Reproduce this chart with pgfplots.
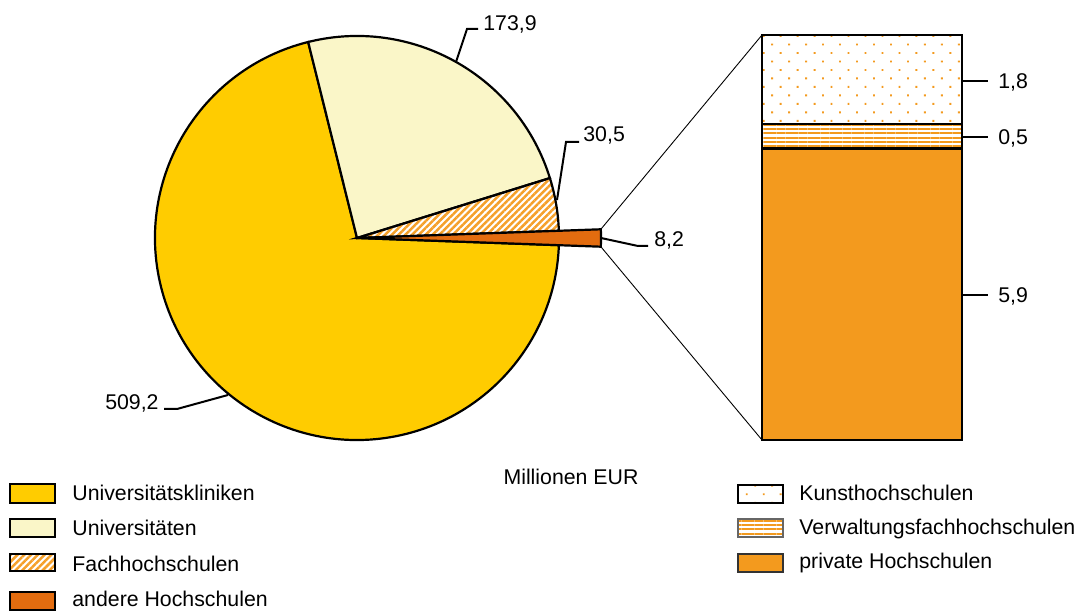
\documentclass[border=0pt]{standalone}
\usepackage{pgfplots}
\pgfplotsset{compat=1.18}
\usepackage{pgfplotstable}
\usetikzlibrary{patterns.meta}
\usepackage{fontspec}
\setmainfont{Liberation Sans}
\definecolor{klin}{HTML}{FFCC00}
\definecolor{uni}{HTML}{FAF6C8}
\definecolor{fhor}{HTML}{F5A02A}
\definecolor{andere}{HTML}{E36C0F}
\definecolor{priv}{HTML}{F39A1E}
\definecolor{dotor}{HTML}{F39A1E}
\pgfplotstableread{
name value
Kliniken 509.2
Universitaeten 173.9
Fachhochschulen 30.5
andere 8.2
}\piedata
\pgfplotstableread{
x private verwaltung kunst
0 5.9 0.5 1.8
}\bardata
\begin{document}
\begin{tikzpicture}[font=\fontsize{10.65}{12}\selectfont]
\pgfplotstablegetelem{0}{value}\of\piedata \let\vK\pgfplotsretval
\pgfplotstablegetelem{1}{value}\of\piedata \let\vU\pgfplotsretval
\pgfplotstablegetelem{2}{value}\of\piedata \let\vF\pgfplotsretval
\pgfplotstablegetelem{3}{value}\of\piedata \let\vA\pgfplotsretval
\pgfmathsetmacro\tot{\vK+\vU+\vF+\vA}
\pgfmathsetmacro\sA{-180*(\vA/\tot)}
\pgfmathsetmacro\eA{180*(\vA/\tot)}
\pgfmathsetmacro\eF{\eA+360*(\vF/\tot)}
\pgfmathsetmacro\eU{\eF+360*(\vU/\tot)}
\pgfmathsetmacro\eK{\eU+360*(\vK/\tot)}
\begin{axis}[x=0.5pt, y=0.5pt, y dir=reverse, xmin=0, xmax=1083, ymin=0, ymax=613,
  hide axis, clip=false, at={(0,0)}, anchor=south west]
% pie
\filldraw[fill=klin, draw=black, line width=1.1pt] (axis cs:357,238) -- ++(\eU:101pt) arc[start angle=\eU, end angle=\eK, radius=101pt] -- cycle;
\filldraw[fill=uni, draw=black, line width=1.1pt] (axis cs:357,238) -- ++(\eF:101pt) arc[start angle=\eF, end angle=\eU, radius=101pt] -- cycle;
\filldraw[pattern={Lines[angle=45, distance=2.4pt, line width=1.25pt]}, pattern color=fhor, draw=black, line width=1.1pt] (axis cs:357,238) -- ++(\eA:101pt) arc[start angle=\eA, end angle=\eF, radius=101pt] -- cycle;
\filldraw[fill=andere, draw=black, line width=1.1pt, line join=miter] (axis cs:357,238) -- ++(\sA:122pt) arc[start angle=\sA, end angle=\eA, radius=122pt] -- cycle;
% connectors
\draw[line width=0.45pt] (axis cs:357,238) ++(\eA:122pt) -- (axis cs:762,35);
\draw[line width=0.45pt] (axis cs:357,238) ++(\sA:122pt) -- (axis cs:762,440);
% leader lines and labels
\draw[line width=1pt] (axis cs:456,62) -- (axis cs:467,29) -- (axis cs:478,29);
\node[anchor=base west, inner sep=0] at (axis cs:483,30.5) {173,9};
\draw[line width=1pt] (axis cs:557,200) -- (axis cs:566,142) -- (axis cs:579,142);
\node[anchor=base west, inner sep=0] at (axis cs:583,142) {30,5};
\draw[line width=1pt] (axis cs:601,238) -- (axis cs:638,246) -- (axis cs:648,246);
\node[anchor=base west, inner sep=0] at (axis cs:654,247) {8,2};
\draw[line width=1pt] (axis cs:228,395) -- (axis cs:177,409) -- (axis cs:164,409);
\node[anchor=base east, inner sep=0] at (axis cs:159,410) {509,2};
\draw[line width=1pt] (axis cs:962,81) -- (axis cs:988,81);
\node[anchor=base west, inner sep=0] at (axis cs:998,89) {1,8};
\draw[line width=1pt] (axis cs:962,137) -- (axis cs:988,137);
\node[anchor=base west, inner sep=0] at (axis cs:998,145) {0,5};
\draw[line width=1pt] (axis cs:962,295) -- (axis cs:988,295);
\node[anchor=base west, inner sep=0] at (axis cs:998,303) {5,9};
\node[anchor=base, inner sep=0] at (axis cs:571,485) {Millionen EUR};
% legend left
\filldraw[fill=klin, draw=black, line width=1pt] (axis cs:10,484) rectangle (axis cs:55,503);
\node[anchor=base west, inner sep=0] at (axis cs:72,501) {Universitätskliniken};
\filldraw[fill=uni, draw=black, line width=1pt] (axis cs:10,519) rectangle (axis cs:55,537);
\node[anchor=base west, inner sep=0] at (axis cs:72,536) {Universitäten};
\filldraw[pattern={Lines[angle=45, distance=2.4pt, line width=1.25pt]}, pattern color=fhor, draw=black, line width=1pt] (axis cs:10,554) rectangle (axis cs:55,571);
\node[anchor=base west, inner sep=0] at (axis cs:72,572) {Fachhochschulen};
\filldraw[fill=andere, draw=black, line width=1pt] (axis cs:10,592) rectangle (axis cs:55,610);
\node[anchor=base west, inner sep=0] at (axis cs:72,607) {andere Hochschulen};
% legend right
\filldraw[pattern={Dots[angle=45, distance=6pt, radius=0.65pt]}, pattern color=dotor, draw=black, line width=1pt] (axis cs:738,485) rectangle (axis cs:783,503);
\node[anchor=base west, inner sep=0] at (axis cs:799,501) {Kunsthochschulen};
\filldraw[pattern={Lines[angle=0, distance=2.2pt, line width=1.1pt]}, pattern color=priv, draw=black!60, line width=0.8pt] (axis cs:738,519) rectangle (axis cs:783,537);
\node[anchor=base west, inner sep=0] at (axis cs:799,535) {Verwaltungsfachhochschulen};
\filldraw[fill=priv, draw=black!80, line width=1pt] (axis cs:738,554) rectangle (axis cs:783,572);
\node[anchor=base west, inner sep=0] at (axis cs:799,569) {private Hochschulen};
\end{axis}
\begin{axis}[at={(381pt,86.5pt)}, anchor=south west, width=100pt, height=202.5pt, scale only axis,
  xmin=-0.5, xmax=0.5, ymin=0, ymax=8.2, hide axis, clip=false, ybar stacked, bar width=100pt]
\addplot[fill=priv, draw=black, line width=1.3pt] table[x=x, y=private]{\bardata};
\addplot[pattern={Lines[angle=0, distance=2.2pt, line width=1.1pt]}, pattern color=priv, draw=black, line width=1.3pt] table[x=x, y=verwaltung]{\bardata};
\addplot[pattern={Dots[angle=45, distance=6pt, radius=0.65pt]}, pattern color=dotor, draw=black, line width=1.3pt] table[x=x, y=kunst]{\bardata};
\end{axis}
\pgfresetboundingbox
\path (0,0) rectangle (541.5pt,306.5pt);
\end{tikzpicture}
\end{document}
